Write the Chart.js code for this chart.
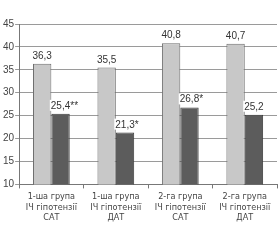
<!DOCTYPE html>
<html lang="uk">
<head>
<meta charset="UTF-8">
<title>Chart</title>
<script src="https://cdn.jsdelivr.net/npm/chart.js"></script>
<style>
  html, body { margin: 0; padding: 0; background: #fff; }
  #wrap { width: 280px; height: 240px; }
</style>
</head>
<body>
<div id="wrap"><canvas id="myChart" width="280" height="240"></canvas></div>
<script>
const categories = [
    ["1-ша група", "ІЧ гіпотензії", "САТ"],
    ["1-ша група", "ІЧ гіпотензії", "ДАТ"],
    ["2-га група", "ІЧ гіпотензії", "САТ"],
    ["2-га група", "ІЧ гіпотензії", "ДАТ"]
];
const lightValues = [36.3, 35.5, 40.8, 40.7];
const darkValues = [25.4, 21.3, 26.8, 25.2];
const lightMarks = ["", "", "", ""];
const darkMarks = ["**", "*", "*", ""];
const yTicks = [10, 15, 20, 25, 30, 35, 40, 45];

const fmt = v => v.toFixed(1).replace(".", ",");

// value labels above the bars, number centred, asterisks hanging to the right
const valueLabels = {
    id: "valueLabels",
    afterDatasetsDraw(chart) {
        const ctx = chart.ctx;
        const marks = [lightMarks, darkMarks];
        ctx.save();
        ctx.font = "10px 'Liberation Sans'";
        ctx.textBaseline = "alphabetic";
        chart.data.datasets.forEach((ds, di) => {
            chart.getDatasetMeta(di).data.forEach((bar, i) => {
                const num = fmt(ds.data[i]);
                const txt = num + marks[di][i];
                const w = ctx.measureText(num).width;
                const fw = ctx.measureText(txt).width;
                const x0 = bar.x - w / 2;
                const y = bar.y - 5;
                ctx.fillStyle = "#fff";
                ctx.fillRect(x0 - 1, y - 9, fw + 2, 11);
                ctx.fillStyle = "#333";
                ctx.textAlign = "left";
                ctx.fillText(txt, x0, y);
            });
        });
        ctx.restore();
    }
};

const ctx = document.getElementById("myChart").getContext("2d");
new Chart(ctx, {
    type: "bar",
    data: {
        labels: categories,
        datasets: [{
            data: lightValues,
            backgroundColor: "#c8c8c8",
            borderColor: "#6e6e6e",
            borderWidth: 1,
            borderSkipped: "bottom"
        }, {
            data: darkValues,
            backgroundColor: "#5c5c5c",
            borderColor: "#3c3c3c",
            borderWidth: 1,
            borderSkipped: "bottom"
        }]
    },
    plugins: [valueLabels],
    options: {
        responsive: false,
        animation: false,
        devicePixelRatio: 1,
        layout: { padding: { top: 24, right: 3, left: 2, bottom: 14 } },
        datasets: { bar: { categoryPercentage: 0.57, barPercentage: 1 } },
        plugins: { legend: { display: false }, tooltip: { enabled: false } },
        scales: {
            x: {
                offset: true,
                grid: { offset: true, drawOnChartArea: false, tickLength: 4, color: "#777" },
                border: { color: "#777" },
                ticks: {
                    color: "#444",
                    font: { family: "'DejaVu Sans Condensed'", size: 9, lineHeight: 1.17 },
                    maxRotation: 0,
                    padding: 3
                }
            },
            y: {
                min: 10,
                max: 45,
                afterBuildTicks: axis => { axis.ticks = yTicks.map(v => ({ value: v })); },
                grid: { color: "#9a9a9a", tickLength: 4 },
                border: { color: "#777" },
                ticks: {
                    color: "#444",
                    font: { family: "'Liberation Sans'", size: 10 },
                    padding: 1
                }
            }
        }
    }
});
</script>
</body>
</html>
